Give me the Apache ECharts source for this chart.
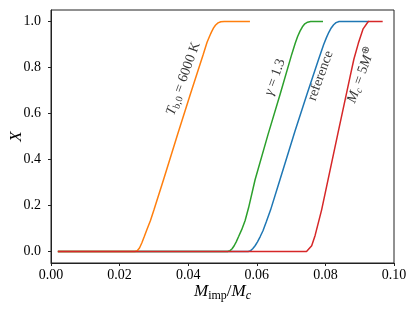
<!DOCTYPE html>
<html><head><meta charset="utf-8">
<script src="https://cdn.jsdelivr.net/npm/echarts@6/dist/echarts.min.js"></script>
<style>html,body{margin:0;padding:0;background:#fff}#c{width:415px;height:312px}</style>
</head><body><div id="c"></div>
<script>
// x ticks and y ticks
const xTicks = [0, 0.02, 0.04, 0.06, 0.08, 0.10];
const yTicks = [0, 0.2, 0.4, 0.6, 0.8, 1.0];

// reference (blue)
const refX = [0.002, 0.0575, 0.0582, 0.0588, 0.0595, 0.0602, 0.061, 0.0618, 0.0628, 0.064, 0.0665, 0.0711, 0.0746, 0.0779, 0.0795, 0.0803, 0.081, 0.0817, 0.0824, 0.0831, 0.084, 0.0927];
const refY = [0, 0, 0.004, 0.012, 0.025, 0.042, 0.065, 0.09, 0.13, 0.18, 0.3, 0.522, 0.683, 0.83, 0.9, 0.93, 0.953, 0.972, 0.986, 0.995, 1, 1];
// gamma = 1.3 (green)
const gamX = [0.002, 0.0515, 0.0522, 0.0528, 0.0534, 0.054, 0.0547, 0.0556, 0.0566, 0.0576, 0.0595, 0.0632, 0.0668, 0.0702, 0.0712, 0.0719, 0.0726, 0.0733, 0.074, 0.0748, 0.0757, 0.0793];
const gamY = [0, 0, 0.004, 0.012, 0.025, 0.042, 0.065, 0.095, 0.135, 0.19, 0.312, 0.505, 0.684, 0.858, 0.905, 0.935, 0.958, 0.977, 0.99, 0.997, 1, 1];
// T_b0 = 6000 K (orange)
const tbX = [0.002, 0.0245, 0.0252, 0.0258, 0.0265, 0.0272, 0.028, 0.029, 0.030, 0.0328, 0.0369, 0.0406, 0.0444, 0.0455, 0.0462, 0.0468, 0.0474, 0.048, 0.0487, 0.0495, 0.0505, 0.058];
const tbY = [0, 0, 0.004, 0.015, 0.038, 0.065, 0.097, 0.135, 0.18, 0.312, 0.509, 0.683, 0.858, 0.91, 0.935, 0.955, 0.972, 0.985, 0.994, 0.999, 1, 1];
// M_c = 5 M_earth (red)
const mcX = [0.002, 0.0745, 0.076, 0.077, 0.0789, 0.0836, 0.0872, 0.0883, 0.0896, 0.091, 0.0925, 0.0967];
const mcY = [0, 0, 0.025, 0.07, 0.181, 0.51, 0.76, 0.836, 0.905, 0.968, 1, 1];

// annotation anchors (data coords)
const labelX = [0.0386, 0.0653, 0.0786, 0.0904];
const labelY = [0.752, 0.758, 0.764, 0.766];
const labelText = [
  '{i|T}{s|b,0}{n| = 6000 K}',
  '{i|γ}{n| = 1.3}',
  '{n|reference}',
  '{i|M}{si|c}{n| = 5}{i|M}{sup|⊕}'
];

const FONT = 'Liberation Serif';
const zip = (a, b) => a.map((v, i) => [v, b[i]]);

const rich = {
  n: {fontFamily: FONT, fontSize: 14, color: '#000', lineHeight: 17},
  i: {fontFamily: FONT, fontSize: 14, fontStyle: 'italic', color: '#000', lineHeight: 17},
  s: {fontFamily: FONT, fontSize: 10, color: '#000', lineHeight: 8, verticalAlign: 'bottom'},
  si: {fontFamily: FONT, fontSize: 10, fontStyle: 'italic', color: '#000', lineHeight: 8, verticalAlign: 'bottom'},
  sup: {fontFamily: FONT, fontSize: 10, color: '#000', lineHeight: 8, verticalAlign: 'top'}
};

function line(name, xs, ys, color) {
  return {
    name, type: 'line', data: zip(xs, ys), showSymbol: false, symbol: 'none',
    smooth: false,
    lineStyle: {color, width: 1.5}, itemStyle: {color}, silent: true, animation: false
  };
}

const chart = echarts.init(document.getElementById('c'), null, {renderer: 'canvas'});
chart.setOption({
  animation: false,
  grid: {left: 51, right: 21, top: 10, bottom: 49, show: true, borderColor: '#222', borderWidth: 1,
    containLabel: false, outerBoundsMode: 'none'},
  xAxis: {
    type: 'value', min: 0, max: 0.1, interval: 0.02,
    axisLine: {show: true, onZero: false, lineStyle: {color: '#222', width: 1}},
    axisTick: {show: true, length: 3, lineStyle: {color: '#222'}},
    splitLine: {show: false},
    axisLabel: {fontFamily: FONT, fontSize: 14, color: '#000', margin: 5,
      formatter: v => v.toFixed(2)},
    name: '{i|M}{s|imp}{n|/}{i|M}{si|c}', nameLocation: 'middle', nameGap: 19, nameMoveOverlap: false,
    nameTextStyle: {rich: {
      n: {fontFamily: FONT, fontSize: 17, color: '#000', lineHeight: 20},
      i: {fontFamily: FONT, fontSize: 17, fontStyle: 'italic', color: '#000', lineHeight: 20},
      s: {fontFamily: FONT, fontSize: 12, color: '#000', lineHeight: 10, verticalAlign: 'bottom'},
      si: {fontFamily: FONT, fontSize: 12, fontStyle: 'italic', color: '#000', lineHeight: 10, verticalAlign: 'bottom'}
    }}
  },
  yAxis: {
    type: 'value', min: -0.05, max: 1.05,
    axisLine: {show: true, onZero: false, lineStyle: {color: '#222', width: 1}},
    axisTick: {show: true, length: 3, lineStyle: {color: '#222'}, customValues: yTicks},
    splitLine: {show: false},
    axisLabel: {fontFamily: FONT, fontSize: 14, color: '#000', margin: 10,
      customValues: yTicks, formatter: v => v.toFixed(1)},
    name: 'X', nameLocation: 'middle', nameGap: 26, nameRotate: 90, nameMoveOverlap: false,
    nameTextStyle: {fontFamily: FONT, fontSize: 17, fontStyle: 'italic', color: '#000'}
  },
  series: [
    line('reference', refX, refY, '#1f77b4'),
    line('gamma', gamX, gamY, '#2ca02c'),
    line('Tb0', tbX, tbY, '#ff7f0e'),
    line('Mc', mcX, mcY, '#d62728'),
    {
      type: 'scatter', symbolSize: 0, silent: true, animation: false,
      data: labelX.map((x, i) => ({value: [x, labelY[i]], label: {formatter: labelText[i]}})),
      label: {show: true, position: 'inside', rotate: 70, align: 'center', verticalAlign: 'middle', rich}
    }
  ]
});
</script></body></html>
